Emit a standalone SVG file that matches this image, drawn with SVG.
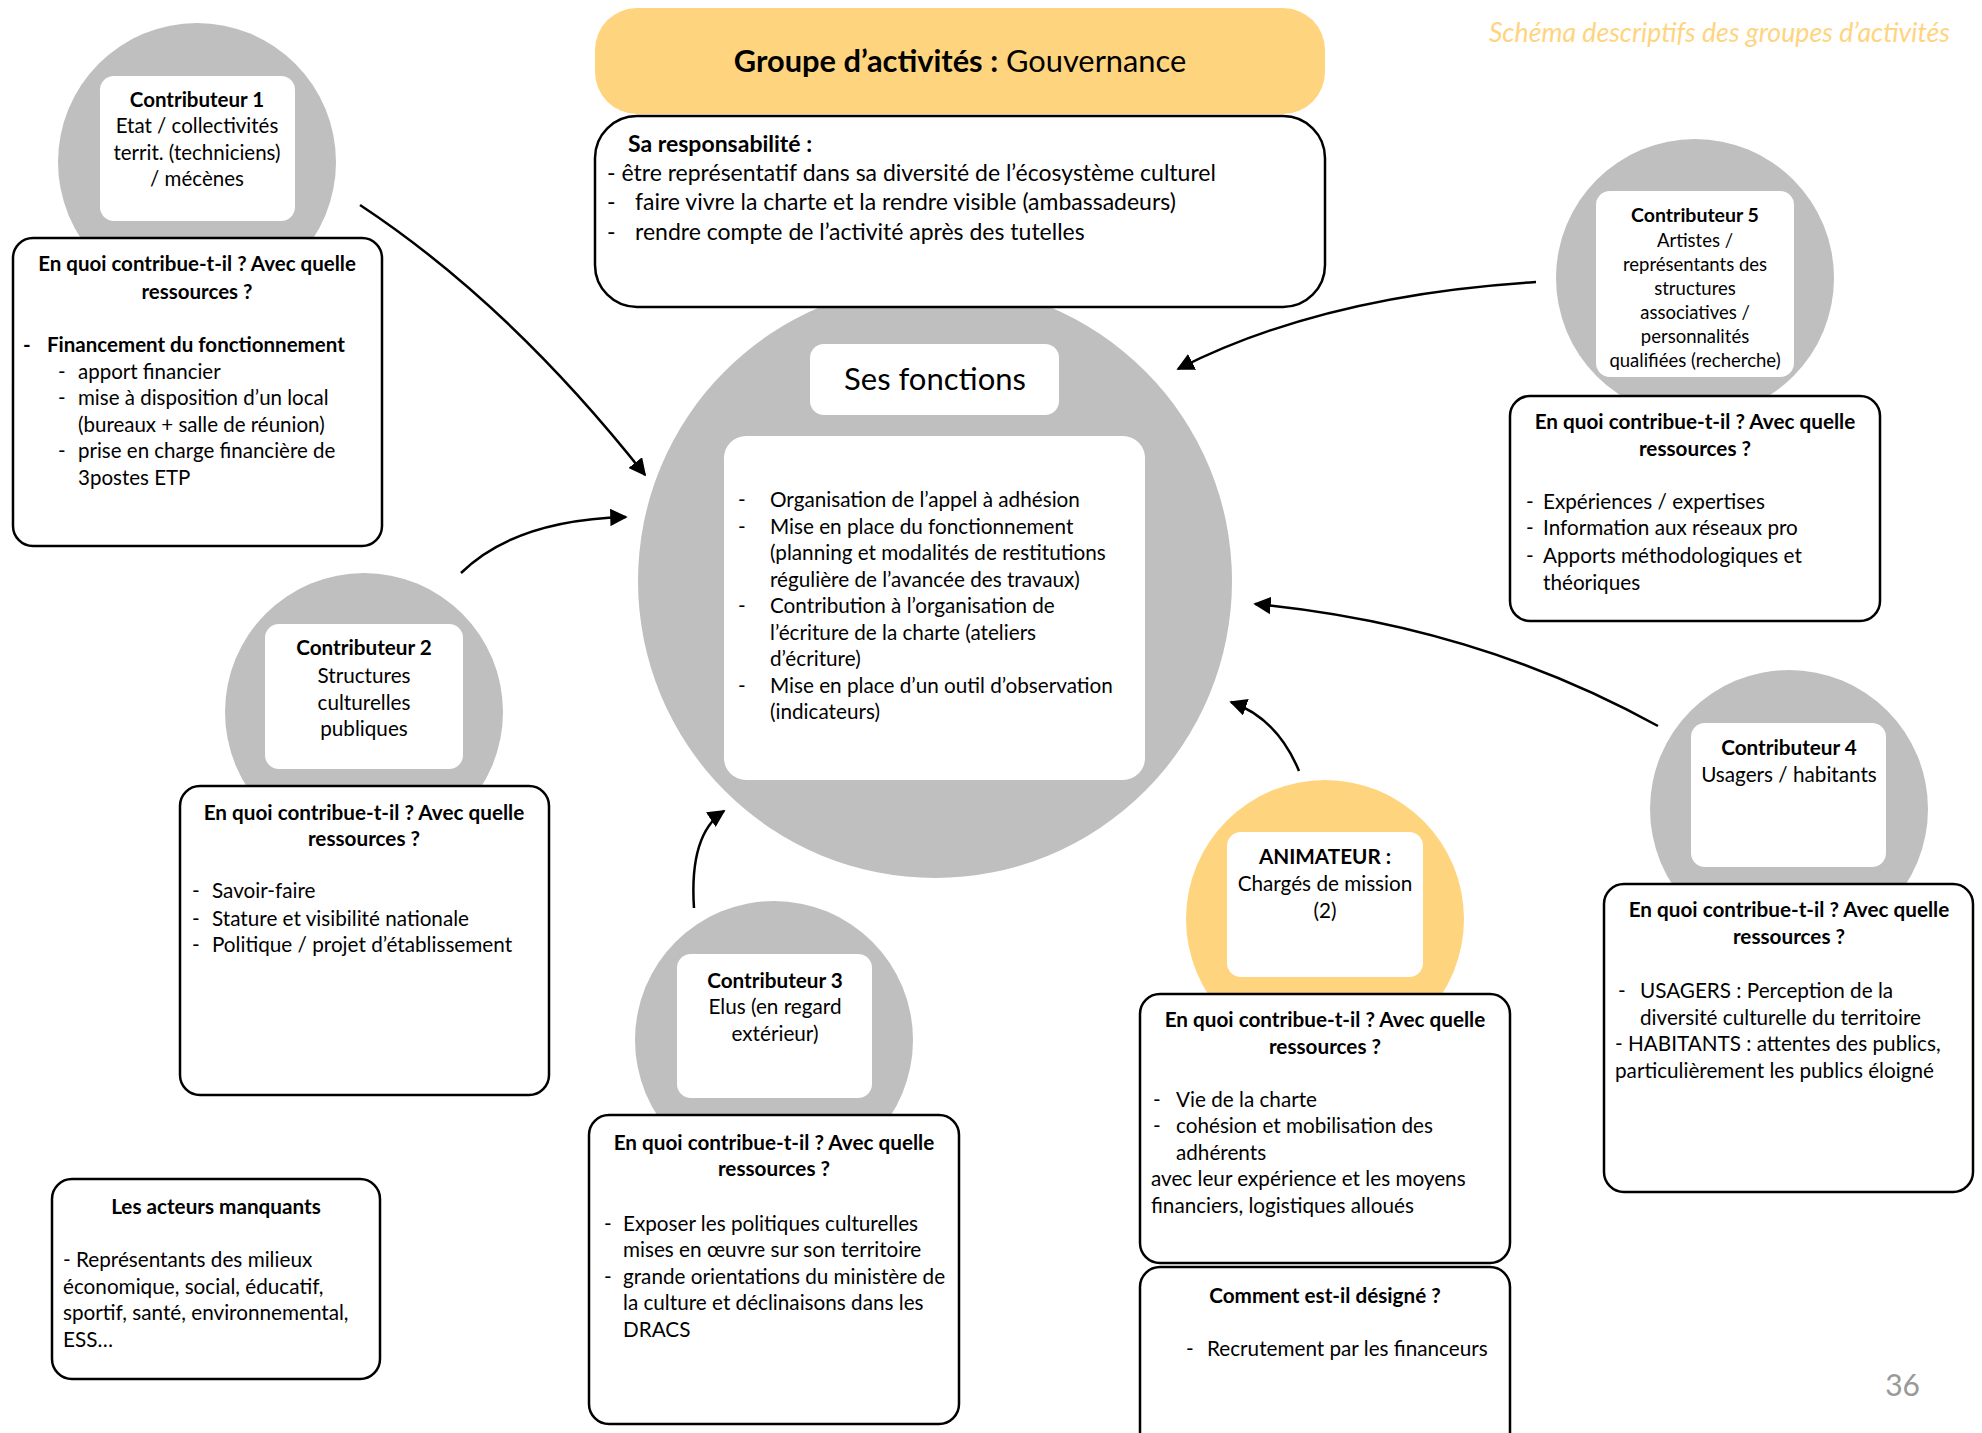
<svg xmlns="http://www.w3.org/2000/svg" width="1982" height="1433" viewBox="0 0 1982 1433">
<defs>
<style>
.t{font-family:Lato,"Open Sans","Liberation Sans",sans-serif;fill:#000}
.c{font-size:20.5px}
.w{font-size:20.7px}
.b{font-weight:bold}
.m{text-anchor:middle}
.box{fill:#fff;stroke:#000;stroke-width:2.5}
.wb{fill:#fff}
.gc{fill:#BFBFBF}
.yc{fill:#FFD47F}
.conn path{fill:none;stroke:#000;stroke-width:2.5;marker-end:url(#ah)}
</style>
<marker id="ah" viewBox="0 0 10 10" refX="9" refY="5" markerWidth="7" markerHeight="7" orient="auto" markerUnits="strokeWidth">
<path d="M0,0 L10,5 L0,10 Z" fill="#000"/>
</marker>
</defs>
<rect width="1982" height="1433" fill="#fff"/>

<text class="t" x="1950" y="42" text-anchor="end" font-size="26.7" font-style="italic" style="fill:#FFD47F">Schéma descriptifs des groupes d’activités</text>
<text x="1920" y="1396" text-anchor="end" font-family="Lato,sans-serif" font-size="30" fill="#999999">36</text>

<g id="fonctions">
<circle class="gc" cx="935" cy="581" r="297"/>
<rect class="wb" x="810" y="344" width="249" height="71" rx="14"/>
<text class="t m" x="935" y="390" font-size="31">Ses fonctions</text>
<rect class="wb" x="724" y="436" width="421" height="344" rx="22"/>
<g class="t" font-size="20.7">
<text x="738" y="507">-</text><text x="770" y="507">Organisation de l’appel à adhésion</text>
<text x="738" y="534">-</text><text x="770" y="534">Mise en place du fonctionnement</text>
<text x="770" y="560">(planning et modalités de restitutions</text>
<text x="770" y="587">régulière de l’avancée des travaux)</text>
<text x="738" y="613">-</text><text x="770" y="613">Contribution à l’organisation de</text>
<text x="770" y="640">l’écriture de la charte (ateliers</text>
<text x="770" y="666">d’écriture)</text>
<text x="738" y="693">-</text><text x="770" y="693">Mise en place d’un outil d’observation</text>
<text x="770" y="719">(indicateurs)</text>
</g>
</g>

<g id="titre">
<rect class="yc" x="595" y="8" width="730" height="106" rx="42"/>
<text class="t m" x="960" y="72" font-size="30.8"><tspan font-weight="bold">Groupe d’activités :</tspan> Gouvernance</text>
</g>

<g id="responsabilite">
<rect class="box" x="595" y="116" width="730" height="191" rx="42"/>
<g class="t" font-size="23">
<text x="628" y="152" font-weight="bold">Sa responsabilité :</text>
<text x="607" y="181">- être représentatif dans sa diversité de l’écosystème culturel</text>
<text x="607" y="210">-</text><text x="635" y="210">faire vivre la charte et la rendre visible (ambassadeurs)</text>
<text x="607" y="240">-</text><text x="635" y="240">rendre compte de l’activité après des tutelles</text>
</g>
</g>

<g id="contributeur1">
<circle class="gc" cx="197" cy="162" r="139"/>
<rect class="wb" x="100" y="76" width="195" height="145" rx="14"/>
<g class="t c m">
<text x="197" y="107" class="b">Contributeur 1</text>
<text x="197" y="133">Etat / collectivités</text>
<text x="197" y="160">territ. (techniciens)</text>
<text x="197" y="186">/ mécènes</text>
</g>
<rect class="box" x="13" y="238" width="369" height="308" rx="20"/>
<g class="t c">
<text x="197" y="271" class="b m">En quoi contribue-t-il ? Avec quelle</text>
<text x="197" y="299" class="b m">ressources ?</text>
<text x="23" y="352" class="b">-</text><text x="47" y="352" class="b">Financement du fonctionnement</text>
<text x="58" y="379">-</text><text x="78" y="379">apport financier</text>
<text x="58" y="405">-</text><text x="78" y="405">mise à disposition d’un local</text>
<text x="78" y="432">(bureaux + salle de réunion)</text>
<text x="58" y="458">-</text><text x="78" y="458">prise en charge financière de</text>
<text x="78" y="485">3postes ETP</text>
</g>
</g>

<g id="contributeur2">
<circle class="gc" cx="364" cy="712" r="139"/>
<rect class="wb" x="265" y="624" width="198" height="145" rx="14"/>
<g class="t w m">
<text x="364" y="655" class="b">Contributeur 2</text>
<text x="364" y="683">Structures</text>
<text x="364" y="710">culturelles</text>
<text x="364" y="736">publiques</text>
</g>
<rect class="box" x="180" y="786" width="369" height="309" rx="20"/>
<g class="t w">
<text x="364" y="820" class="b m">En quoi contribue-t-il ? Avec quelle</text>
<text x="364" y="846" class="b m">ressources ?</text>
<text x="192" y="898">-</text><text x="212" y="898">Savoir-faire</text>
<text x="192" y="926">-</text><text x="212" y="926">Stature et visibilité nationale</text>
<text x="192" y="952">-</text><text x="212" y="952">Politique / projet d’établissement</text>
</g>
</g>

<g id="contributeur3">
<circle class="gc" cx="774" cy="1040" r="139"/>
<rect class="wb" x="677" y="954" width="195" height="144" rx="14"/>
<g class="t w m">
<text x="775" y="988" class="b">Contributeur 3</text>
<text x="775" y="1014">Elus (en regard</text>
<text x="775" y="1041">extérieur)</text>
</g>
<rect class="box" x="589" y="1115" width="370" height="309" rx="20"/>
<g class="t w">
<text x="774" y="1150" class="b m">En quoi contribue-t-il ? Avec quelle</text>
<text x="774" y="1176" class="b m">ressources ?</text>
<text x="604" y="1231">-</text><text x="623" y="1231">Exposer les politiques culturelles</text>
<text x="623" y="1257">mises en œuvre sur son territoire</text>
<text x="604" y="1284">-</text><text x="623" y="1284">grande orientations du ministère de</text>
<text x="623" y="1310">la culture et déclinaisons dans les</text>
<text x="623" y="1337">DRACS</text>
</g>
</g>

<g id="acteurs-manquants">
<rect class="box" x="52" y="1179" width="328" height="200" rx="20"/>
<g class="t w">
<text x="216" y="1214" class="b m">Les acteurs manquants</text>
<text x="63" y="1267">- Représentants des milieux</text>
<text x="63" y="1294">économique, social, éducatif,</text>
<text x="63" y="1320">sportif, santé, environnemental,</text>
<text x="63" y="1347">ESS…</text>
</g>
</g>

<g id="contributeur5">
<circle class="gc" cx="1695" cy="278" r="139"/>
<rect class="wb" x="1596" y="191" width="198" height="186" rx="14"/>
<g class="t m" font-size="18.5">
<text x="1695" y="222" class="b" font-size="19.5">Contributeur 5</text>
<text x="1695" y="247">Artistes /</text>
<text x="1695" y="271">représentants des</text>
<text x="1695" y="295">structures</text>
<text x="1695" y="319">associatives /</text>
<text x="1695" y="343">personnalités</text>
<text x="1695" y="367">qualifiées (recherche)</text>
</g>
<rect class="box" x="1510" y="396" width="370" height="225" rx="20"/>
<g class="t w">
<text x="1695" y="429" class="b m">En quoi contribue-t-il ? Avec quelle</text>
<text x="1695" y="456" class="b m">ressources ?</text>
<text x="1526" y="509">-</text><text x="1543" y="509">Expériences / expertises</text>
<text x="1526" y="535">-</text><text x="1543" y="535">Information aux réseaux pro</text>
<text x="1526" y="563">-</text><text x="1543" y="563">Apports méthodologiques et</text>
<text x="1543" y="590">théoriques</text>
</g>
</g>

<g id="contributeur4">
<circle class="gc" cx="1789" cy="809" r="139"/>
<rect class="wb" x="1691" y="723" width="195" height="144" rx="14"/>
<g class="t w m">
<text x="1789" y="755" class="b">Contributeur 4</text>
<text x="1789" y="782">Usagers / habitants</text>
</g>
<rect class="box" x="1604" y="884" width="369" height="308" rx="20"/>
<g class="t w">
<text x="1789" y="917" class="b m">En quoi contribue-t-il ? Avec quelle</text>
<text x="1789" y="944" class="b m">ressources ?</text>
<text x="1618" y="998">-</text><text x="1640" y="998">USAGERS : Perception de la</text>
<text x="1640" y="1025">diversité culturelle du territoire</text>
<text x="1615" y="1051">- HABITANTS : attentes des publics,</text>
<text x="1615" y="1078">particulièrement les publics éloigné</text>
</g>
</g>

<g id="animateur">
<circle class="yc" cx="1325" cy="919" r="139"/>
<rect class="wb" x="1227" y="832" width="196" height="145" rx="14"/>
<g class="t w m">
<text x="1325" y="864" class="b">ANIMATEUR :</text>
<text x="1325" y="891">Chargés de mission</text>
<text x="1325" y="918">(2)</text>
</g>
<rect class="box" x="1140" y="994" width="370" height="269" rx="20"/>
<g class="t w">
<text x="1325" y="1027" class="b m">En quoi contribue-t-il ? Avec quelle</text>
<text x="1325" y="1054" class="b m">ressources ?</text>
<text x="1153" y="1107">-</text><text x="1176" y="1107">Vie de la charte</text>
<text x="1153" y="1133">-</text><text x="1176" y="1133">cohésion et mobilisation des</text>
<text x="1176" y="1160">adhérents</text>
<text x="1151" y="1186">avec leur expérience et les moyens</text>
<text x="1151" y="1213">financiers, logistiques alloués</text>
</g>
<rect class="box" x="1140" y="1267" width="370" height="190" rx="20"/>
<g class="t w">
<text x="1325" y="1303" class="b m">Comment est-il désigné ?</text>
<text x="1186" y="1356">-</text><text x="1207" y="1356">Recrutement par les financeurs</text>
</g>
</g>

<g id="connecteurs" class="conn">
<path d="M360,205 Q510,304 645,475"/>
<path d="M461,573 Q515,520 626,517"/>
<path d="M694,908 Q689,834 724,811"/>
<path d="M1536,282 Q1323,295 1178,369"/>
<path d="M1658,726 Q1475,625 1255,604"/>
<path d="M1299,771 Q1277,718 1231,702"/>
</g>
</svg>
